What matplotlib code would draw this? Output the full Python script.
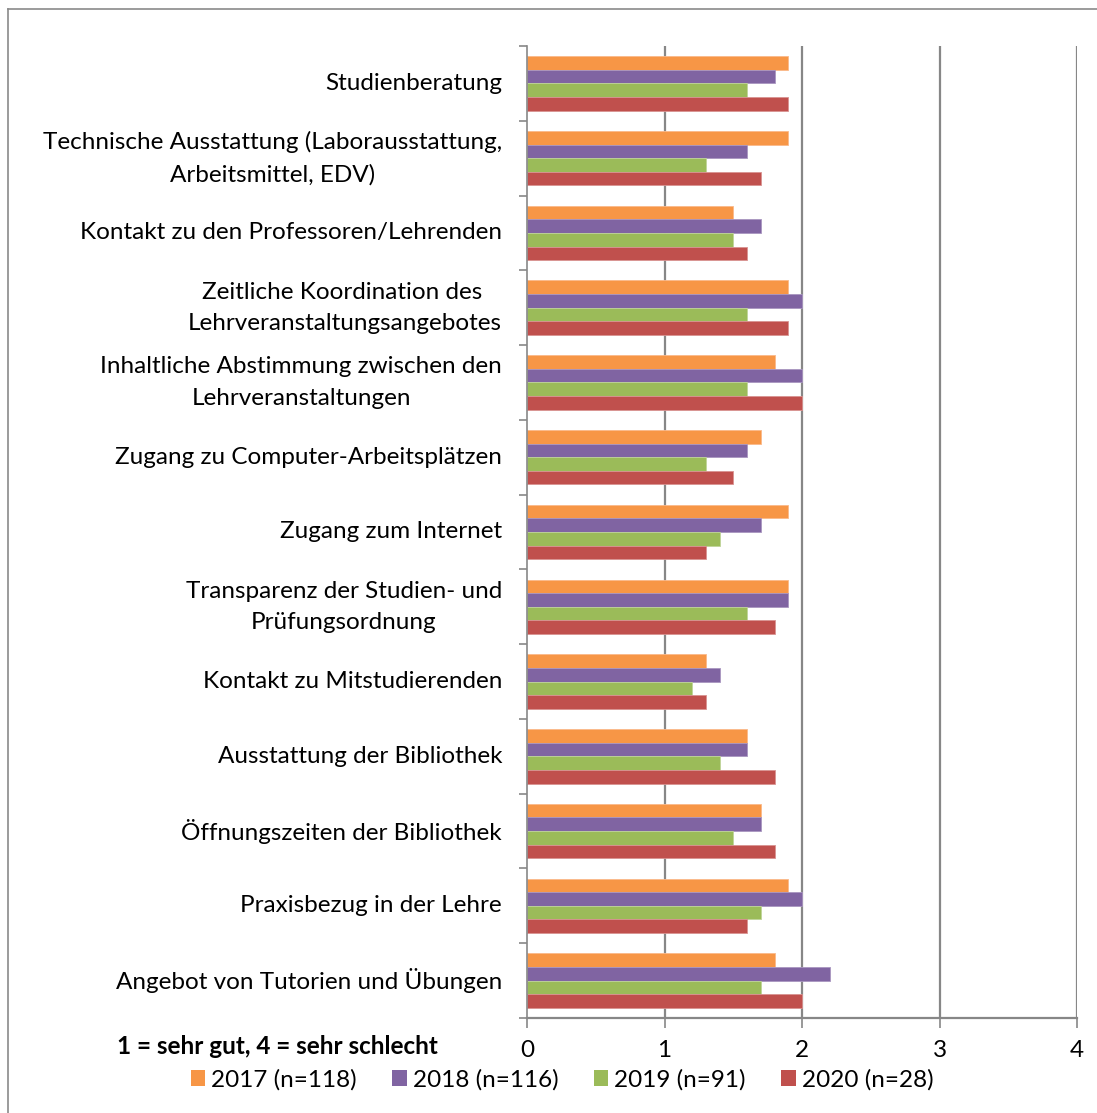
import matplotlib.pyplot as plt
import numpy as np
from matplotlib.patches import Patch
from matplotlib.transforms import blended_transform_factory

plt.rcParams['font.family'] = ['Lato', 'DejaVu Sans']

# ----------------------------------------------------------------------
# DATA (1 = sehr gut, 4 = sehr schlecht), top to bottom
# ----------------------------------------------------------------------
categories = [
    "Studienberatung",
    "Technische Ausstattung (Laborausstattung,\nArbeitsmittel, EDV)",
    "Kontakt zu den Professoren/Lehrenden",
    "Zeitliche Koordination des \nLehrveranstaltungsangebotes",
    "Inhaltliche Abstimmung zwischen den\nLehrveranstaltungen",
    "Zugang zu Computer-Arbeitsplätzen",
    "Zugang zum Internet",
    "Transparenz der Studien- und\nPrüfungsordnung",
    "Kontakt zu Mitstudierenden",
    "Ausstattung der Bibliothek",
    "Öffnungszeiten der Bibliothek",
    "Praxisbezug in der Lehre",
    "Angebot von Tutorien und Übungen",
]
series_labels = ["2017 (n=118)", "2018 (n=116)", "2019 (n=91)", "2020 (n=28)"]
v2017 = [1.9, 1.9, 1.5, 1.9, 1.8, 1.7, 1.9, 1.9, 1.3, 1.6, 1.7, 1.9, 1.8]
v2018 = [1.8, 1.6, 1.7, 2.0, 2.0, 1.6, 1.7, 1.9, 1.4, 1.6, 1.7, 2.0, 2.2]
v2019 = [1.6, 1.3, 1.5, 1.6, 1.6, 1.3, 1.4, 1.6, 1.2, 1.4, 1.5, 1.7, 1.7]
v2020 = [1.9, 1.7, 1.6, 1.9, 2.0, 1.5, 1.3, 1.8, 1.3, 1.8, 1.8, 1.6, 2.0]
x_ticks = [0, 1, 2, 3, 4]

colors = ["#F79646", "#8064A2", "#9BBB59", "#C0504D"]
edges = ["#FAB98A", "#A996C0", "#BFD49A", "#D99391"]
GRID = "#878787"
FS = 17.5

W, H = 1097, 1113
fig = plt.figure(figsize=(W / 100, H / 100), dpi=100)
ax = fig.add_axes([527 / W, 1 - 1018 / H, 550 / W, 972 / H])

n = len(categories)
ypos = np.arange(n)[::-1].astype(float)
bh = 0.182
offsets = [1.5 * bh, 0.5 * bh, -0.5 * bh, -1.5 * bh]
for vals, col, ec, off, lab in zip([v2017, v2018, v2019, v2020], colors, edges, offsets, series_labels):
    ax.barh(ypos + off, vals, height=bh, color=col, edgecolor=ec, linewidth=0.6,
            label=lab, zorder=3)

ax.set_xlim(0, 4)
ax.set_ylim(-0.5, n - 0.5)

# vertical gridlines
for xv in x_ticks[1:]:
    ax.axvline(xv, color=GRID, lw=1.6, zorder=1)

for s in ["top", "right"]:
    ax.spines[s].set_visible(False)
ax.spines["left"].set_color(GRID)
ax.spines["left"].set_linewidth(1.2)
ax.spines["bottom"].set_color(GRID)
ax.spines["bottom"].set_linewidth(1.6)
ax.spines["left"].set_zorder(4)

ax.set_xticks(x_ticks)
ax.set_xticklabels([str(t) for t in x_ticks])
ax.tick_params(axis="x", length=7, width=1.2, color=GRID, pad=9, labelsize=FS)
ax.set_yticks(np.arange(-0.5, n, 1.0))
ax.set_yticklabels([])
ax.tick_params(axis="y", length=6, width=1.2, color=GRID)

# category labels
tr = blended_transform_factory(ax.transAxes, ax.transData)
for y, cat in zip(ypos, categories):
    ax.text(-25 / 550, y, cat, transform=tr, ha="right", va="center",
            multialignment="center", fontsize=FS, linespacing=1.6, color="#000000")

fig.text(277 / W, 1 - 1046 / H, "1 = sehr gut, 4 = sehr schlecht", ha="center",
         va="center", fontsize=FS, fontweight="bold")

handles = [Patch(facecolor=c, edgecolor="none", label=l) for c, l in zip(colors, series_labels)]
fig.legend(handles=handles, loc="center", bbox_to_anchor=(562 / W, 1 - 1080 / H), ncol=4,
           frameon=False, fontsize=FS, handlelength=0.6, handleheight=0.6,
           handletextpad=0.25, columnspacing=1.45)

# outer chart border
fig.add_artist(plt.Line2D([8 / W, 8 / W], [0, 1 - 9 / H], transform=fig.transFigure,
                          color="#8a8a8a", lw=1.2))
fig.add_artist(plt.Line2D([8 / W, 1], [1 - 9 / H, 1 - 9 / H], transform=fig.transFigure,
                          color="#8a8a8a", lw=1.2))

fig.savefig("out.png", dpi=100)
